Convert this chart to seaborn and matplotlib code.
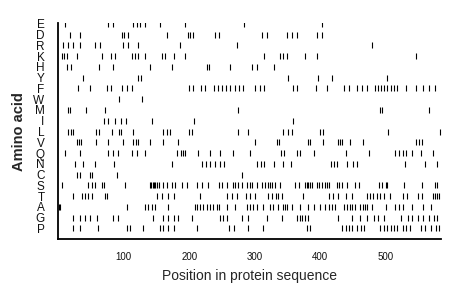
import numpy as np
import pandas as pd
import matplotlib
matplotlib.use("Agg")
import matplotlib.pyplot as plt
import seaborn as sns

# amino acid rows, top to bottom
amino_acids = ['E', 'D', 'R', 'K', 'H', 'Y', 'F', 'W', 'M', 'I',
               'L', 'V', 'Q', 'N', 'C', 'S', 'T', 'A', 'G', 'P']

# positions of each residue in the sequence
pos_E = [10, 76, 84, 114, 120, 125, 132, 155, 194, 283, 403]
pos_D = [18, 33, 97, 101, 106, 166, 198, 201, 205, 240, 245, 311, 319, 349, 357, 365, 396, 403]
pos_R = [7, 14, 23, 33, 56, 63, 99, 107, 122, 186, 273, 480]
pos_K = [5, 9, 13, 28, 66, 81, 86, 112, 117, 122, 132, 158, 163, 176, 194, 314, 339, 344, 349, 377, 396, 546]
pos_H = [13, 19, 62, 84, 140, 173, 227, 230, 262, 296, 304, 329]
pos_Y = [38, 121, 126, 351, 397, 418, 503]
pos_F = [30, 48, 74, 80, 97, 105, 113, 199, 206, 218, 224, 238, 244, 250, 256, 262, 270, 276, 282,
         300, 308, 314, 358, 365, 393, 410, 436, 444, 457, 464, 472, 484, 488, 493, 498, 503, 508,
         513, 518, 531, 546, 558, 566, 576]
pos_W = [92, 127]
pos_M = [15, 18, 42, 71, 275, 492, 495, 566]
pos_I = [69, 76, 87, 96, 104, 143, 207, 359]
pos_L = [15, 19, 23, 58, 62, 82, 93, 96, 114, 160, 166, 171, 199, 204, 275, 290, 344, 351, 357,
         400, 405, 504, 584]
pos_V = [28, 31, 34, 58, 76, 99, 114, 119, 122, 140, 160, 183, 301, 334, 337, 382, 385, 405, 428,
         431, 434, 446, 466, 546, 551, 556]
pos_Q = [10, 33, 76, 84, 91, 112, 120, 132, 181, 188, 191, 194, 214, 232, 247, 267, 293, 340, 345,
         364, 369, 390, 439, 474, 515, 520, 526, 531, 541, 554, 572]
pos_N = [25, 37, 56, 85, 173, 220, 226, 232, 239, 247, 253, 304, 309, 315, 329, 343, 356, 416, 421,
         426, 441, 450, 456, 530, 560, 579]
pos_C = [29, 33, 48, 52, 89, 281]
pos_S = [5, 45, 51, 56, 66, 70, 102, 140, 142, 144, 146, 148, 151, 153, 160, 166, 174, 178, 189,
         197, 212, 220, 229, 245, 250, 257, 267, 270, 275, 280, 288, 293, 296, 303, 311, 316, 321,
         324, 327, 331, 339, 362, 367, 377, 380, 382, 385, 388, 395, 398, 403, 408, 411, 414, 426,
         429, 434, 441, 454, 459, 490, 495, 500, 503, 528, 556, 575, 578]
pos_T = [22, 36, 40, 45, 51, 71, 74, 150, 158, 168, 176, 217, 258, 265, 273, 286, 293, 301, 321,
         327, 332, 336, 342, 374, 413, 420, 428, 439, 449, 472, 477, 481, 487, 492, 497, 507, 527,
         533, 549, 556, 573, 576, 579, 581]
pos_A = [1, 2, 105, 132, 137, 143, 148, 168, 209, 212, 217, 221, 227, 232, 237, 243, 246, 258, 270,
         288, 293, 298, 304, 313, 324, 328, 336, 343, 347, 350, 357, 370, 382, 390, 400, 408, 413,
         418, 423, 436, 441, 446, 449, 454, 461, 465, 469, 472, 480, 500, 515, 520, 526, 541, 558, 569]
pos_G = [22, 33, 40, 48, 59, 84, 91, 145, 160, 168, 176, 183, 204, 247, 252, 257, 281, 290, 319,
         342, 365, 369, 373, 377, 382, 428, 449, 461, 472, 482, 489, 497, 523, 535, 541, 550, 558,
         566, 574, 579]
pos_P = [22, 33, 61, 105, 109, 130, 155, 160, 168, 176, 212, 260, 268, 290, 313, 380, 385, 434,
         439, 444, 449, 457, 462, 467, 492, 497, 503, 508, 513, 518, 526, 531, 538, 554, 561, 569,
         577, 581]

seq_length = 585
x_ticks = [100, 200, 300, 400, 500]

positions = [pos_E, pos_D, pos_R, pos_K, pos_H, pos_Y, pos_F, pos_W, pos_M, pos_I,
             pos_L, pos_V, pos_Q, pos_N, pos_C, pos_S, pos_T, pos_A, pos_G, pos_P]

rows = []
n = len(amino_acids)
for i, (aa, pos) in enumerate(zip(amino_acids, positions)):
    for p in pos:
        rows.append({'aa': aa, 'row': n - 1 - i, 'pos': p})
df = pd.DataFrame(rows)

sns.set_style("white")
plt.rcParams['font.family'] = ['Liberation Sans', 'DejaVu Sans']

fig = plt.figure(figsize=(4.6, 2.99), dpi=100)
ax = fig.add_axes([0.127, 0.2, 0.832, 0.722])

sns.scatterplot(data=df, x='pos', y='row', marker='|', s=16, color='black',
                linewidth=0.8, legend=False, ax=ax)

ax.set_xlim(0, seq_length)
ax.set_ylim(-1, n - 1 + 0.05)
ax.set_xticks(x_ticks)
ax.set_xticklabels([str(t) for t in x_ticks], fontsize=7)
ax.set_yticks(range(n))
ax.set_yticklabels(amino_acids[::-1], fontsize=8.5)

ax.tick_params(axis='x', direction='out', length=7, width=1, color='black', pad=2, labelcolor='#111111')
ax.tick_params(axis='y', direction='out', length=5.5, width=1, color='black', pad=4.5, labelcolor='#111111')
for side in ['top', 'right']:
    ax.spines[side].set_visible(False)
for side in ['left', 'bottom']:
    ax.spines[side].set_color('black')
    ax.spines[side].set_linewidth(1.3)

ax.set_xlabel('Position in protein sequence', fontsize=10, labelpad=5)
ax.set_ylabel('Amino acid', fontsize=10.5, fontweight='bold', labelpad=5)
ax.grid(False)

fig.savefig('out.png', dpi=100)
